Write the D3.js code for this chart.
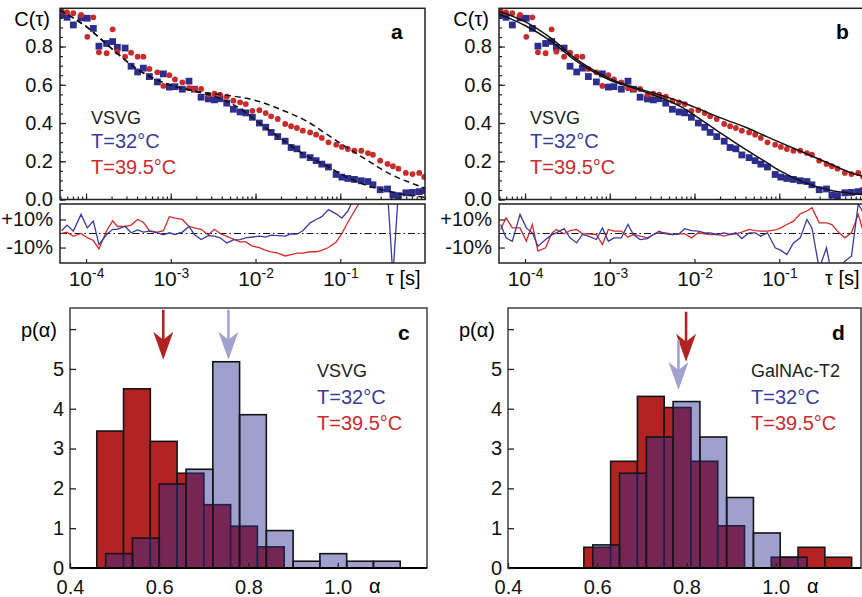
<!DOCTYPE html>
<html>
<head>
<meta charset="utf-8">
<script src="https://cdn.jsdelivr.net/npm/d3@7"></script>
<style>
body { margin: 0; background: #fff; }
svg text { font-family: Arial, "Liberation Sans", Helvetica, sans-serif; }
</style>
</head>
<body>
<div id="chart"></div>
<script>

// lag times of the correlation curves (s)
var tau = [5.16e-5, 5.97e-5, 7.08e-5, 8.73e-5, 1.035e-4, 1.22e-4, 1.42e-4, 1.75e-4, 2.06e-4, 2.34e-4,
    2.89e-4, 3.40e-4, 4.07e-4, 4.75e-4, 5.59e-4, 6.95e-4, 8.18e-4, 9.62e-4, 1.12e-3, 1.37e-3,
    1.64e-3, 1.90e-3, 2.28e-3, 2.78e-3, 3.27e-3, 3.82e-3, 4.58e-3, 5.48e-3, 6.58e-3, 7.68e-3,
    9.18e-3, 1.11e-2, 1.32e-2, 1.53e-2, 1.83e-2, 2.24e-2, 2.63e-2, 3.08e-2, 3.62e-2, 4.41e-2,
    5.19e-2, 6.06e-2, 7.26e-2, 8.95e-2, 0.1045, 0.123, 0.147, 0.177, 0.212, 0.243,
    0.296, 0.361, 0.418, 0.486, 0.594, 0.711, 0.855, 0.978];

// C(tau), T=39.5°C (red circles)
var corrHot = [0.987, 0.978, 0.974, 0.965, 0.851, 0.953, 0.770, 0.765, 0.890, 0.773,
    0.747, 0.768, 0.747, 0.747, 0.683, 0.665, 0.594, 0.650, 0.628, 0.613,
    0.582, 0.578, 0.578, 0.547, 0.553, 0.548, 0.538, 0.517, 0.508, 0.499,
    0.464, 0.467, 0.452, 0.435, 0.421, 0.395, 0.383, 0.374, 0.360, 0.351,
    0.339, 0.322, 0.299, 0.287, 0.275, 0.264, 0.255, 0.255, 0.243, 0.234,
    0.203, 0.186, 0.174, 0.161, 0.139, 0.133, 0.139, 0.118];

// C(tau), T=32°C (blue squares)
var corrCold = [0.965, 0.953, 0.913, 0.950, 0.948, 0.895, 0.802, 0.816, 0.826, 0.796,
    0.792, 0.697, 0.667, 0.687, 0.643, 0.615, 0.657, 0.588, 0.590, 0.577,
    0.619, 0.577, 0.535, 0.526, 0.521, 0.527, 0.504, 0.472, 0.458, 0.453,
    0.430, 0.400, 0.378, 0.351, 0.329, 0.305, 0.272, 0.265, 0.233, 0.219,
    0.203, 0.185, 0.170, 0.131, 0.117, 0.110, 0.105, 0.098, 0.094, 0.077,
    0.051, 0.055, 0.023, 0.020, 0.035, 0.037, 0.041, 0.046];

// residuals in %, panel a
var resColdA = [2, 6, 1.7, 13.6, 4, 8.8, -7.9, -0.7, 3, 3,
    5.2, 0.5, 2.5, 1, 1.7, 0.5, -1, 0.5, -0.7, 1,
    5, -0.7, -4.3, -1.5, -1.9, -3.1, -6.7, -4.5, -4.3, -3.1,
    -2.5, -1.9, -2.6, -1.2, -1.5, -1.9, -0.2, -0.5, 2, 7.6,
    10, 12, 17, 14, 11, 16, 26, 30, 30, 30,
    21, 30, -30, 30, 30, 30, 30, 30];
var resHotA = [0, 1, -2, 0, -3, -5, -11, 2, 9, 5,
    5, 6, 10, 8, 2, 1, 2, 12, 11, 10,
    5, 4, 3, -1, 3, 0, -2, -4, -6, -6,
    -9, -10, -12, -13, -14, -16, -15, -14, -14, -13,
    -13, -12, -10, -6, 0, 8, 16, 24, 30, 30,
    30, 30, 30, 30, 30, 30, 30, 30];

// residuals in %, panel b
var resColdB = [6.4, -3.1, -5.5, 13.6, 4, 0.5, -9, -4.3, -1, 0.5,
    3.4, -3.1, -6.7, -0.7, -1.9, -4.3, 4, -5.5, -3.1, -3.1,
    6.4, -0.7, -4.3, -3.6, -0.7, 1.7, -0.2, -0.7, -0.2, 3.4,
    2.1, 1.7, 0.5, 0.5, -0.7, 0.5, -0.7, 0.5, -3.6, 0.5,
    0.5, -1.9, 0.5, -10.2, -12, -15, -6.7, -3.1, 10, 4,
    -25, -10.2, -30, -25, -19.8, -16.2, 21, 15];
var resHotB = [2.9, 11.2, 4, 4, -5.5, 6.4, -12.6, -10.2, 0, 2.9,
    -0.2, 2.1, 2.9, -0.2, -0.2, -0.7, -7.9, 2.9, 1.7, 1.7,
    -2.6, -0.7, -1.9, -3.1, -0.7, 0.5, 0.5, -0.7, -0.2, -0.2,
    -3.1, 0.5, -0.2, -0.7, -0.7, -1.9, -0.7, -0.2, 1, 2.9,
    2, 1.7, 1.7, 2.5, 4, 6.4, 8.8, 14, 16, 18.3,
    7.6, 7.6, 6.4, 1.7, -3.1, 0.5, 13.6, 1.7];

// fitted curves
var fitTau = [4.9e-5, 1e-4, 2e-4, 4e-4, 1e-3, 2e-3, 4e-3, 7e-3, 1e-2, 2e-2, 4e-2, 7e-2, 0.1, 0.2, 0.4, 0.7, 1.0];
var fitA1 = [0.99, 0.905, 0.79, 0.682, 0.598, 0.565, 0.548, 0.533, 0.518, 0.47, 0.41, 0.34, 0.295, 0.21, 0.13, 0.085, 0.06];
var fitA2 = [0.99, 0.905, 0.79, 0.682, 0.598, 0.565, 0.525, 0.468, 0.415, 0.318, 0.228, 0.175, 0.135, 0.075, 0.04, 0.02, 0.012];
var fitB1 = [0.985, 0.93, 0.845, 0.735, 0.632, 0.585, 0.545, 0.51, 0.483, 0.428, 0.378, 0.33, 0.30, 0.243, 0.186, 0.14, 0.12];
var fitB2 = [0.97, 0.91, 0.83, 0.725, 0.625, 0.58, 0.532, 0.484, 0.44, 0.35, 0.262, 0.195, 0.152, 0.088, 0.048, 0.032, 0.025];

// histograms of alpha, bin width 0.06
var binWidth = 0.06;
var histHotC = [3.44, 4.50, 3.18, 2.38, 1.59, 1.05, 0.53];            // from 0.46
var histColdC = [0.36, 0.75, 2.11, 2.48, 5.18, 3.85, 0.94, 0.17, 0.36, 0.17, 0.17]; // from 0.48
var histHotD = [0.52, 2.68, 4.31, 4.03, 2.68, 1.06, 0, 0.27, 0.52, 0.27];   // from 0.57
var histColdD = [0.58, 2.38, 3.29, 4.18, 3.29, 1.77, 0.88, 0.27];       // from 0.59
var startC = [0.46, 0.48], startD = [0.57, 0.59];

// mean alpha arrows: [alpha, tip height]
var meanHotC = [0.609, 5.23], meanColdC = [0.755, 5.23];
var meanHotD = [0.799, 5.18], meanColdD = [0.782, 4.47];

var decades = [1e-4, 1e-3, 1e-2, 1e-1];
var corrTicks = [0, 0.2, 0.4, 0.6, 0.8];
var histTicks = [0.4, 0.6, 0.8, 1.0];

var RED = "#c92a2a", BLUE = "#2e2e8e", BAR_RED = "#b22222", LIGHT = "#a2a2cf";

var svg = d3.select("#chart").append("svg")
    .attr("width", 862)
    .attr("height", 597);

function series(xs, ys){
    return xs.map(function(d, i){ return {t: d, v: ys[i]}; });
}

// ---------- correlation panel ----------
CorrPanel = function(_svg, _left, _id, _fits, _resCold, _resHot){
    var vis = this;
    vis.svg = _svg;
    vis.left = _left;
    vis.id = _id;
    vis.fits = _fits;
    vis.resCold = _resCold;
    vis.resHot = _resHot;
    vis.initVis();
};

CorrPanel.prototype.initVis = function(){
    var vis = this;

    vis.width = 365;
    vis.g = vis.svg.append("g")
        .attr("transform", "translate(" + vis.left + ",0)");

    vis.x = d3.scaleLog().domain([4.93e-5, 1.0]).range([0, vis.width]);
    vis.y = d3.scaleLinear().domain([0, 1]).range([199.5, 8.3]);
    vis.yRes = d3.scaleLinear().domain([-21, 21]).range([263, 204]);

    vis.g.append("clipPath").attr("id", "main-" + vis.id)
        .append("rect").attr("x", 0).attr("y", 8).attr("width", vis.width).attr("height", 192);
    vis.g.append("clipPath").attr("id", "res-" + vis.id)
        .append("rect").attr("x", 0).attr("y", 204).attr("width", vis.width).attr("height", 59);

    vis.updateVis();
};

CorrPanel.prototype.updateVis = function(){
    var vis = this;
    var fs = 20;

    var main = vis.g.append("g").attr("clip-path", "url(#main-" + vis.id + ")");

    main.selectAll(".sq")
        .data(series(tau, corrCold))
        .enter().append("rect")
        .attr("class", "sq")
        .attr("x", function(d){ return vis.x(d.t) - 3.4; })
        .attr("y", function(d){ return vis.y(d.v) - 3.4; })
        .attr("width", 6.8)
        .attr("height", 6.8)
        .attr("fill", BLUE);

    main.selectAll(".dot")
        .data(series(tau, corrHot))
        .enter().append("circle")
        .attr("class", "dot")
        .attr("cx", function(d){ return vis.x(d.t); })
        .attr("cy", function(d){ return vis.y(d.v); })
        .attr("r", 2.9)
        .attr("fill", RED);

    var fitLine = d3.line()
        .curve(d3.curveMonotoneX)
        .x(function(d){ return vis.x(d.t); })
        .y(function(d){ return vis.y(d.v); });

    vis.fits.vals.forEach(function(f){
        main.append("path")
            .datum(series(fitTau, f))
            .attr("d", fitLine)
            .attr("fill", "none")
            .attr("stroke", "#111")
            .attr("stroke-width", 1.5)
            .attr("stroke-dasharray", vis.fits.dashed ? "6,4" : null);
    });

    // residuals
    var res = vis.g.append("g").attr("clip-path", "url(#res-" + vis.id + ")");
    res.append("line")
        .attr("x1", 0).attr("x2", vis.width)
        .attr("y1", vis.yRes(0)).attr("y2", vis.yRes(0))
        .attr("stroke", "#111")
        .attr("stroke-width", 1.2)
        .attr("stroke-dasharray", "7,3,1.5,3");

    var resLine = d3.line()
        .x(function(d){ return vis.x(d.t); })
        .y(function(d){ return vis.yRes(d.v); });

    res.append("path")
        .datum(series(tau, vis.resHot))
        .attr("d", resLine)
        .attr("fill", "none")
        .attr("stroke", "#d42a2a")
        .attr("stroke-width", 1.3);

    res.append("path")
        .datum(series(tau, vis.resCold))
        .attr("d", resLine)
        .attr("fill", "none")
        .attr("stroke", "#3a3aa2")
        .attr("stroke-width", 1.3);

    // frames
    vis.g.append("rect")
        .attr("x", 0).attr("y", 8.3).attr("width", vis.width).attr("height", 191.2)
        .attr("fill", "none").attr("stroke", "#222").attr("stroke-width", 1.5);
    vis.g.append("rect")
        .attr("x", 0).attr("y", 204).attr("width", vis.width).attr("height", 59)
        .attr("fill", "none").attr("stroke", "#222").attr("stroke-width", 1.5);

    // axes
    var minorX = vis.g.append("g")
        .attr("transform", "translate(0,199.5)")
        .call(d3.axisBottom(vis.x).tickValues(vis.x.ticks()).tickSize(-3).tickFormat(""));
    var majorX = vis.g.append("g")
        .attr("transform", "translate(0,199.5)")
        .call(d3.axisBottom(vis.x).tickValues(decades).tickSize(-6).tickFormat(""));

    var resX = vis.g.append("g")
        .attr("transform", "translate(0,263)")
        .call(d3.axisBottom(vis.x).tickValues(decades).tickSize(-4).tickPadding(8));

    var minorY = vis.g.append("g")
        .call(d3.axisLeft(vis.y).ticks(20).tickSize(-3).tickFormat(""));
    var majorY = vis.g.append("g")
        .call(d3.axisLeft(vis.y).tickValues(corrTicks).tickSize(-6).tickPadding(7)
            .tickFormat(d3.format(".1f")));

    var resY = vis.g.append("g")
        .call(d3.axisLeft(vis.yRes).tickValues([-10, 10]).tickSize(-6).tickPadding(7)
            .tickFormat(function(d){ return (d > 0 ? "+" : "") + d + "%"; }));

    [minorX, majorX, resX, minorY, majorY, resY].forEach(function(a){
        a.select(".domain").remove();
        a.selectAll(".tick line").attr("stroke", "#222").attr("stroke-width", 1.2);
        a.attr("font-size", fs).attr("font-family", null);
        a.selectAll("text").attr("fill", "#111");
    });

    resX.attr("font-size", 21);
    resX.selectAll(".tick text").text(null).each(function(d){
        var t = d3.select(this);
        t.append("tspan").text("10");
        t.append("tspan").attr("dy", "-0.55em").attr("font-size", "0.66em")
            .text(Math.round(Math.log10(d)));
    });

    vis.g.append("text")
        .attr("x", -10).attr("y", 26)
        .attr("text-anchor", "end")
        .attr("font-size", fs)
        .text("C(τ)");

    vis.g.append("text")
        .attr("x", 326).attr("y", 285)
        .attr("font-size", fs)
        .text("τ [s]");

    vis.g.append("text")
        .attr("x", vis.id === "a" ? 331 : 337).attr("y", 39)
        .attr("font-size", 21).attr("font-weight", "bold")
        .text(vis.id);

    var legend = vis.g.append("g").attr("transform", "translate(31,0)");
    legend.append("text").attr("y", 124).attr("font-size", 18).attr("fill", "#222").text("VSVG");
    legend.append("text").attr("y", 148).attr("font-size", 20).attr("fill", "#3b3b9b").text("T=32°C");
    legend.append("text").attr("y", 174).attr("font-size", 20).attr("fill", "#cc2b2b").text("T=39.5°C");
};

// ---------- alpha histogram panel ----------
HistPanel = function(_svg, _left, _right, _id, _hot, _cold, _starts, _means, _title){
    var vis = this;
    vis.svg = _svg;
    vis.left = _left;
    vis.right = _right;
    vis.id = _id;
    vis.hot = _hot;
    vis.cold = _cold;
    vis.starts = _starts;
    vis.means = _means;
    vis.title = _title;
    vis.initVis();
};

HistPanel.prototype.initVis = function(){
    var vis = this;

    vis.width = vis.right - vis.left;
    vis.g = vis.svg.append("g")
        .attr("transform", "translate(" + vis.left + ",0)");

    vis.x = d3.scaleLinear().domain([0.4, 0.4 + vis.width / 446.25]).range([0, vis.width]);
    vis.y = d3.scaleLinear().domain([0, 6.53]).range([568, 308]);

    vis.updateVis();
};

HistPanel.prototype.updateVis = function(){
    var vis = this;
    var fs = 20;

    function bins(heights, start){
        return heights.map(function(h, i){ return {x0: start + i * binWidth, h: h}; })
            .filter(function(d){ return d.h > 0; });
    }

    vis.g.selectAll(".hot")
        .data(bins(vis.hot, vis.starts[0]))
        .enter().append("rect")
        .attr("class", "hot")
        .attr("x", function(d){ return vis.x(d.x0); })
        .attr("y", function(d){ return vis.y(d.h); })
        .attr("width", function(d){ return vis.x(d.x0 + binWidth) - vis.x(d.x0); })
        .attr("height", function(d){ return vis.y(0) - vis.y(d.h); })
        .attr("fill", BAR_RED)
        .attr("stroke", "#151515")
        .attr("stroke-width", 1.6);

    vis.g.selectAll(".cold")
        .data(bins(vis.cold, vis.starts[1]))
        .enter().append("rect")
        .attr("class", "cold")
        .attr("x", function(d){ return vis.x(d.x0); })
        .attr("y", function(d){ return vis.y(d.h); })
        .attr("width", function(d){ return vis.x(d.x0 + binWidth) - vis.x(d.x0); })
        .attr("height", function(d){ return vis.y(0) - vis.y(d.h); })
        .attr("fill", "#2d2d91")
        .attr("fill-opacity", 0.45)
        .attr("stroke", "#151515")
        .attr("stroke-width", 1.6);

    // frame
    vis.g.append("rect")
        .attr("x", 0).attr("y", 308).attr("width", vis.width).attr("height", 260)
        .attr("fill", "none").attr("stroke", "#333").attr("stroke-width", 1.4);
    vis.g.append("line")
        .attr("x1", 0).attr("x2", vis.width).attr("y1", 568).attr("y2", 568)
        .attr("stroke", "#000").attr("stroke-width", 2.2);

    var yAxis = vis.g.append("g")
        .call(d3.axisLeft(vis.y).tickValues([0, 1, 2, 3, 4, 5, 6]).tickSize(-6).tickPadding(6)
            .tickFormat(function(d){ return d < 6 ? d : ""; }));
    var xAxis = vis.g.append("g")
        .attr("transform", "translate(0,568)")
        .call(d3.axisBottom(vis.x).tickValues(histTicks).tickSize(-5).tickPadding(12)
            .tickFormat(d3.format(".1f")));

    [yAxis, xAxis].forEach(function(a){
        a.select(".domain").remove();
        a.selectAll(".tick line").attr("stroke", "#222").attr("stroke-width", 1.3);
        a.attr("font-size", fs).attr("font-family", null);
        a.selectAll("text").attr("fill", "#111");
    });

    // mean arrows
    var head = "M0,0 L-10,-28 L0,-20 L10,-28 Z";
    vis.means.forEach(function(m){
        var ax = vis.x(m.v[0]), ay = vis.y(m.v[1]);
        vis.g.append("line")
            .attr("x1", ax).attr("x2", ax).attr("y1", ay - 50).attr("y2", ay - 18)
            .attr("stroke", m.color).attr("stroke-width", 2.6);
        vis.g.append("path")
            .attr("d", head)
            .attr("transform", "translate(" + ax + "," + ay + ")")
            .attr("fill", m.color);
    });

    vis.g.append("text")
        .attr("x", -13).attr("y", 337)
        .attr("text-anchor", "end")
        .attr("font-size", fs)
        .text("p(α)");

    vis.g.append("text")
        .attr("x", vis.x(1.07)).attr("y", 593)
        .attr("font-size", fs)
        .text("α");

    vis.g.append("text")
        .attr("x", vis.width - 29).attr("y", 340)
        .attr("font-size", 21).attr("font-weight", "bold")
        .text(vis.id);

    var legend = vis.g.append("g").attr("transform", "translate(" + (vis.width - 110) + ",0)");
    legend.append("text").attr("y", 377).attr("font-size", 18).attr("fill", "#222").text(vis.title);
    legend.append("text").attr("y", 404).attr("font-size", 20).attr("fill", "#3b3b9b").text("T=32°C");
    legend.append("text").attr("y", 430).attr("font-size", 20).attr("fill", "#cc2b2b").text("T=39.5°C");
};

new CorrPanel(svg, 60, "a", {vals: [fitA1, fitA2], dashed: true}, resColdA, resHotA);
new CorrPanel(svg, 499, "b", {vals: [fitB1, fitB2], dashed: false}, resColdB, resHotB);

new HistPanel(svg, 70, 427, "c", histHotC, histColdC, startC,
    [{v: meanHotC, color: BAR_RED}, {v: meanColdC, color: LIGHT}], "VSVG");
new HistPanel(svg, 508, 861, "d", histHotD, histColdD, startD,
    [{v: meanHotD, color: BAR_RED}, {v: meanColdD, color: LIGHT}], "GalNAc-T2");

</script>
</body>
</html>
